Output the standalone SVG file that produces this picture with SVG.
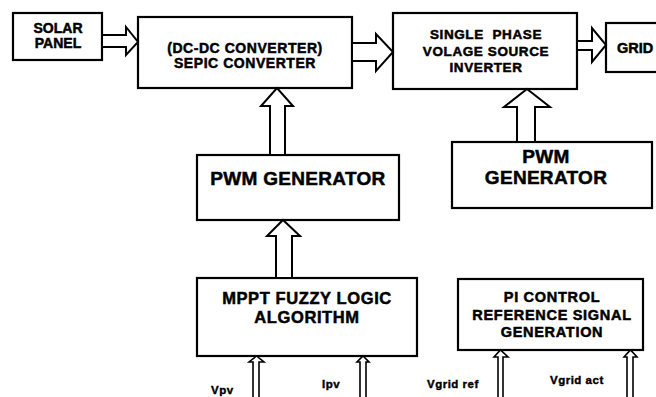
<svg xmlns="http://www.w3.org/2000/svg" width="656" height="397" viewBox="0 0 656 397">
<style>
.box{fill:#fff;stroke:#000;stroke-width:2.2}
.t{font-family:"Liberation Sans",Arial,sans-serif;font-weight:bold;fill:#000;stroke:#000;stroke-width:0.5;text-anchor:middle}
.arr{fill:#fff;stroke:#000;stroke-width:2;stroke-linejoin:miter}
.sa{fill:#fff;stroke:#000;stroke-width:1.6}
.lbl{font-family:"Liberation Sans",Arial,sans-serif;font-weight:bold;fill:#000;stroke:#000;stroke-width:0.4;font-size:11.5px;letter-spacing:0.5px}
</style>
<rect width="656" height="397" fill="#fff"/>
<g id="solar-panel">
<rect class="box" x="13" y="13" width="89" height="47"/>
<text class="t" x="58" y="33" font-size="14">SOLAR</text>
<text class="t" x="58" y="48" font-size="14">PANEL</text>
</g>
<g id="sepic-converter">
<rect class="box" x="138" y="17" width="214" height="71"/>
<text class="t" x="245" y="53" font-size="14" letter-spacing="0.55">(DC-DC CONVERTER)</text>
<text class="t" x="245" y="68" font-size="14" letter-spacing="0.55">SEPIC CONVERTER</text>
</g>
<g id="inverter">
<rect class="box" x="393" y="13" width="184" height="76"/>
<text class="t" x="486" y="39" font-size="13.5" letter-spacing="0.6" style="white-space:pre">SINGLE  PHASE</text>
<text class="t" x="486" y="56" font-size="13.5" letter-spacing="0.6">VOLAGE SOURCE</text>
<text class="t" x="486" y="72" font-size="13.5" letter-spacing="0.6">INVERTER</text>
</g>
<g id="grid">
<rect class="box" x="606" y="23" width="60" height="49"/>
<text class="t" x="617" y="53" font-size="14.5" style="text-anchor:start">GRID</text>
</g>
<g id="pwm-left">
<rect class="box" x="197" y="155" width="202" height="65"/>
<text class="t" x="298" y="185" font-size="19" letter-spacing="0.3">PWM GENERATOR</text>
</g>
<g id="mppt">
<rect class="box" x="197" y="278" width="220" height="78"/>
<text class="t" x="307" y="304" font-size="16.5" letter-spacing="0.6">MPPT FUZZY LOGIC</text>
<text class="t" x="307" y="323" font-size="16.5" letter-spacing="0.6">ALGORITHM</text>
</g>
<g id="pwm-right">
<rect class="box" x="452" y="142" width="200" height="66"/>
<text class="t" x="546" y="163" font-size="19" letter-spacing="0.3">PWM</text>
<text class="t" x="546" y="184" font-size="19" letter-spacing="0.3">GENERATOR</text>
</g>
<g id="pi-control">
<rect class="box" x="458" y="279" width="185" height="71"/>
<text class="t" x="552" y="302" font-size="14.5" letter-spacing="0.7">PI CONTROL</text>
<text class="t" x="552" y="320" font-size="14.5" letter-spacing="0.7">REFERENCE SIGNAL</text>
<text class="t" x="552" y="337" font-size="14.5" letter-spacing="0.7">GENERATION</text>
</g>
<g id="connectors">
<polygon class="arr" points="102,35 126,35 126,27 138,42 126,55 126,47 102,47"/>
<polygon class="arr" points="352,43 376,43 376,34 393,52 376,71 376,61 352,61"/>
<polygon class="arr" points="577,41 592,41 592,28 606,45 592,62 592,50 577,50"/>
<polygon class="arr" points="270,155 270,106 261,106 277,88 293,106 285,106 285,155"/>
<polygon class="arr" points="276,278 276,236 267,236 283,220 300,236 292,236 292,278"/>
<polygon class="arr" points="517,142 517,107 504,107 527,89 550,107 535,107 535,142"/>
<polygon class="sa" points="253,400 253,362 249,362 256.5,356 264,362 259,362 259,400"/>
<polygon class="sa" points="360,400 360,362 357,362 363,356 369,362 366,362 366,400"/>
<polygon class="sa" points="498,400 498,357 494,357 500.5,350 508,357 503,357 503,400"/>
<polygon class="sa" points="627,400 627,357 624,357 630.5,350 637,357 633,357 633,400"/>
</g>
<g id="labels">
<text class="lbl" x="211" y="394">Vpv</text>
<text class="lbl" x="322" y="388">Ipv</text>
<text class="lbl" x="427" y="388">Vgrid ref</text>
<text class="lbl" x="550" y="384">Vgrid act</text>
</g>
</svg>
